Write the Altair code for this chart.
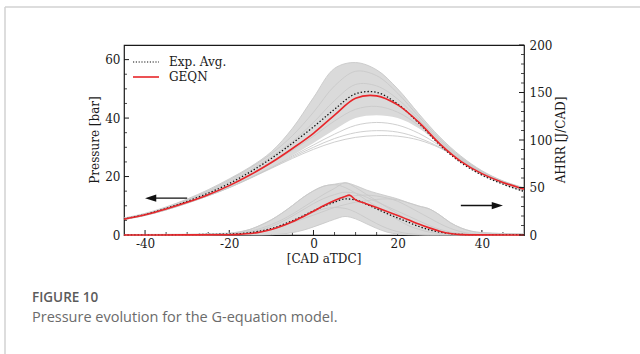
import altair as alt
import pandas as pd

# ---------------- data ----------------
# Pressure [bar] sampled on crank angle grid
p_cad = [-45, -40, -35, -30, -25, -20, -15, -10, -5, 0, 5, 10, 15, 20, 25, 30, 35, 40, 45, 50]
p_sim = [5.4, 6.9, 8.9, 11.2, 13.8, 16.9, 20.6, 24.8, 29.6, 34.8, 41.0, 46.8, 47.6, 44.5, 38.6, 31.2, 25.2, 21.0, 18.0, 15.7]
p_exp = [5.5, 7.0, 9.1, 11.5, 14.3, 17.6, 21.6, 26.2, 31.4, 37.0, 43.0, 48.3, 48.8, 44.8, 38.3, 30.8, 24.8, 20.5, 17.4, 14.9]
p_band_hi = [5.8, 7.4, 9.6, 12.3, 15.5, 19.2, 23.3, 28.5, 36.5, 47.0, 57.0, 59.0, 56.5, 50.0, 41.5, 33.5, 27.0, 22.0, 18.5, 16.2]
p_band_lo = [5.3, 6.7, 8.6, 10.9, 13.5, 16.3, 19.6, 23.2, 27.2, 31.5, 36.0, 40.0, 41.0, 40.0, 36.5, 31.0, 25.0, 20.4, 17.3, 14.6]
p_c1 = [5.3, 6.7, 8.6, 10.9, 13.4, 16.2, 19.4, 22.8, 26.2, 29.3, 31.8, 33.4, 34.0, 33.8, 32.5, 29.8, 25.8, 21.6, 18.3, 15.7]
p_c2 = [5.3, 6.7, 8.6, 10.9, 13.4, 16.2, 19.5, 23.0, 26.6, 30.0, 33.0, 35.0, 35.7, 35.2, 33.2, 30.0, 25.6, 21.4, 18.2, 15.6]
p_c3 = [5.3, 6.7, 8.6, 10.9, 13.5, 16.3, 19.6, 23.1, 27.0, 30.8, 34.5, 37.5, 38.5, 37.6, 34.8, 30.5, 25.4, 21.0, 17.8, 15.3]
p_c4 = [5.4, 6.9, 8.9, 11.2, 13.9, 17.0, 20.6, 24.6, 29.0, 33.8, 39.0, 43.0, 44.0, 42.0, 37.5, 31.5, 25.8, 21.4, 18.1, 15.6]
p_c5 = [5.6, 7.1, 9.2, 11.7, 14.7, 18.2, 22.2, 26.8, 32.0, 38.5, 46.0, 51.5, 51.0, 46.5, 39.5, 32.2, 26.2, 21.6, 18.3, 15.9]
p_c6 = [5.7, 7.2, 9.4, 12.0, 15.1, 18.8, 23.0, 27.8, 34.0, 42.0, 51.0, 56.0, 54.5, 48.5, 40.5, 32.8, 26.6, 21.8, 18.4, 16.0]

# AHRR [J/CAD]
a_cad = [-45, -30, -20, -17.5, -15, -12.5, -10, -7.5, -5, -2.5, 0, 2.5, 5, 7.5, 10, 12.5, 15, 17.5, 20, 22.5,
         25, 27.5, 30, 32.5, 35, 37.5, 40, 45, 50]
a_band_hi = [0.5, 0.8, 2.0, 3.5, 6.0, 10.5, 16.0, 23.0, 31.0, 39.5, 46.5, 51.5, 53.5, 55.0, 52.0, 47.5, 44.0, 41.0, 38.0, 34.0,
             30.5, 27.5, 21.0, 13.0, 7.5, 4.0, 2.5, 1.5, 1.0]
a_band_lo = [0, 0, 0, 0, 0, 0, 0.3, 1.0, 2.5, 5.0, 8.5, 12.5, 16.5, 19.5, 17.0, 12.0, 7.0, 3.0, 1.0, 0.3,
             0, 0, 0, 0, 0, 0, 0, 0, 0]
a_g1 = [0, 0.3, 1.5, 3, 6, 10.5, 16, 23, 31, 39.5, 46.5, 51.5, 53, 50, 44, 37, 30, 23, 16, 10, 6, 3, 1.5, 0.5, 0.2, 0.1, 0, 0, 0]
a_g2 = [0.3, 0.5, 1, 1.5, 2.5, 4, 6, 9, 13, 17, 21, 25, 29, 32, 34.5, 36, 37.5, 38, 37, 34, 30.5, 27.5, 21, 13, 7.5, 4, 2.5, 1.5, 1]
a_g3 = [0, 0.3, 1, 2, 4, 7, 11, 16, 22, 29, 36, 43, 49, 55, 50, 43, 36, 29, 22.5, 16, 11, 7, 4, 2, 1, 0.5, 0.3, 0.2, 0.2]
a_g4 = [0, 0, 0, 0, 0, 0, 0.3, 1, 2.5, 5, 8.5, 12.5, 16.5, 19.5, 17, 12, 7, 3, 1, 0.3, 0, 0, 0, 0, 0, 0, 0, 0, 0]
a_g5 = [0, 0.2, 0.6, 1, 2, 3.5, 6, 9.5, 14, 19, 24.5, 30, 35, 39, 41.5, 42, 41, 39, 35.5, 30, 24, 18, 12, 7, 3.5, 1.5, 0.8, 0.5, 0.5]
a_g6 = [0, 0.2, 0.8, 1.5, 3, 5.5, 9, 14, 20, 26.5, 33, 38.5, 42.5, 45, 44, 40, 35, 30, 25, 20, 15, 10, 6, 3, 1.5, 0.5, 0.3, 0.2, 0.2]
a_g7 = [0, 0.1, 0.5, 1, 2, 3.5, 6, 9.5, 14, 19, 24, 27.5, 29, 28, 24, 18, 12, 7, 3.5, 1.5, 0.5, 0, 0, 0, 0, 0, 0, 0, 0]

a_sim_cad = [-45, -30, -20, -17.5, -15, -12.5, -10, -7.5, -5, -2.5, 0, 2.5, 5, 7.5, 8.5, 10, 12.5, 15, 17.5, 20,
             22.5, 25, 27.5, 30, 32.5, 35, 40, 50]
a_sim = [0.0, 0.1, 0.3, 0.7, 1.5, 3.2, 5.8, 9.5, 14.0, 19.3, 25.0, 31.0, 36.3, 40.6, 42.0, 37.0, 33.0, 29.0, 24.8, 20.5,
         16.0, 11.5, 7.5, 4.0, 1.5, 0.4, 0.1, 0.0]
a_exp_cad = [-45, -30, -20, -15, -10, -5, 0, 2.5, 5, 7.5, 10, 12.5, 15, 17.5, 20, 22.5, 25, 27.5, 30, 32.5, 35, 40, 50]
a_exp = [0.0, 0.4, 1.0, 2.5, 6.8, 15.0, 25.5, 30.5, 34.5, 38.0, 37.0, 32.5, 27.5, 22.5, 18.0, 13.5, 9.0, 5.5, 3.0, 1.4,
         0.6, 0.3, 0.3]

# axis ticks
x_major = [-40, -20, 0, 20, 40]
x_minor = [-35, -30, -25, -15, -10, -5, 5, 10, 15, 25, 30, 35, 45]
p_major = [0, 20, 40, 60]
p_minor = [5, 10, 15, 25, 30, 35, 45, 50, 55]
a_major = [0, 50, 100, 150, 200]
a_minor = [10, 20, 30, 40, 60, 70, 80, 90, 110, 120, 130, 140, 160, 170, 180, 190]

# arrows (tail, tip) and level
arrow_p_cad = [-30, -40]
arrow_p_val = 12.6
arrow_a_cad = [35, 45]
arrow_a_val = 31.0

legend_labels = ["Exp. Avg.", "GEQN"]
caption_head = "FIGURE 10"
caption_text = "Pressure evolution for the G-equation model."

# ---------------- chart ----------------
W, H = 400, 190
SERIF = "DejaVu Serif"
RED = "#e8262a"
GRAY_FILL = "#dadada"
GRAY_LINE = "#c9c9c9"
INK = "#1a1a1a"

xs = alt.Scale(domain=[-45, 50], nice=False, zero=False)
yp = alt.Scale(domain=[0, 65], nice=False)
ya = alt.Scale(domain=[0, 200], nice=False)

minus_expr = "(datum.value < 0 ? '-' : '') + abs(datum.value)"
x_axis = alt.Axis(values=x_major, title=None, grid=False, ticks=False, tickSize=0, domain=False,
                  labelFont=SERIF, labelFontSize=12, labelColor=INK, labelPadding=3,
                  labelExpr=minus_expr)
left_axis = alt.Axis(orient="left", values=p_major, title=None, grid=False, ticks=False, tickSize=0,
                     domain=False, labelFont=SERIF, labelFontSize=12, labelColor=INK, labelPadding=4)
right_axis = alt.Axis(orient="right", values=a_major, title=None, grid=False, ticks=False, tickSize=0,
                      domain=False, labelFont=SERIF, labelFontSize=12, labelColor=INK, labelPadding=5)

X = lambda f: alt.X(f, scale=xs, axis=x_axis)
YP = lambda f: alt.Y(f, scale=yp, axis=left_axis)
YA = lambda f: alt.Y(f, scale=ya, axis=right_axis)

# pressure frames
p_band_df = pd.DataFrame({"cad": p_cad, "lo": p_band_lo, "hi": p_band_hi})
p_gray_rows = []
for name, vals in [("c1", p_c1), ("c2", p_c2), ("c3", p_c3), ("c4", p_c4), ("c5", p_c5), ("c6", p_c6),
                   ("hi", p_band_hi)]:
    for c, v in zip(p_cad, vals):
        p_gray_rows.append({"cad": c, "p": v, "cycle": name})
p_gray_df = pd.DataFrame(p_gray_rows)
p_exp_df = pd.DataFrame({"cad": p_cad, "p": p_exp})
p_sim_df = pd.DataFrame({"cad": p_cad, "p": p_sim})

# AHRR frames
a_band_df = pd.DataFrame({"cad": a_cad, "lo": a_band_lo, "hi": a_band_hi})
a_gray_rows = []
for name, vals in [("g1", a_g1), ("g2", a_g2), ("g3", a_g3), ("g4", a_g4), ("g5", a_g5), ("g6", a_g6),
                   ("g7", a_g7), ("hi", a_band_hi)]:
    for c, v in zip(a_cad, vals):
        a_gray_rows.append({"cad": c, "a": v, "cycle": name})
a_gray_df = pd.DataFrame(a_gray_rows)
a_exp_df = pd.DataFrame({"cad": a_exp_cad, "a": a_exp})
a_sim_df = pd.DataFrame({"cad": a_sim_cad, "a": a_sim})

one = pd.DataFrame({"k": [0]})

# --- pressure layer ---
p_band = alt.Chart(p_band_df).mark_area(color=GRAY_FILL, interpolate="catmull-rom").encode(
    x=X("cad:Q"), y=YP("lo:Q"), y2="hi:Q")
p_gray = alt.Chart(p_gray_df).mark_line(color=GRAY_LINE, strokeWidth=0.9, interpolate="catmull-rom").encode(
    x=X("cad:Q"), y=YP("p:Q"), detail="cycle:N")
p_exp_line = alt.Chart(p_exp_df).mark_line(color="#111", strokeWidth=1.3, strokeDash=[1.4, 2.0],
                                           interpolate="catmull-rom").encode(x=X("cad:Q"), y=YP("p:Q"))
p_sim_line = alt.Chart(p_sim_df).mark_line(color=RED, strokeWidth=1.6, interpolate="catmull-rom").encode(
    x=X("cad:Q"), y=YP("p:Q"))

xt_major = alt.Chart(pd.DataFrame({"v": x_major})).mark_rule(color=INK, strokeWidth=1).encode(
    x=X("v:Q"), y=alt.value(H), y2=alt.value(H - 5))
xt_minor = alt.Chart(pd.DataFrame({"v": x_minor})).mark_rule(color=INK, strokeWidth=0.8).encode(
    x=X("v:Q"), y=alt.value(H), y2=alt.value(H - 3))
pt_major = alt.Chart(pd.DataFrame({"v": p_major})).mark_rule(color=INK, strokeWidth=1).encode(
    y=YP("v:Q"), x=alt.value(0), x2=alt.value(5))
pt_minor = alt.Chart(pd.DataFrame({"v": p_minor})).mark_rule(color=INK, strokeWidth=0.8).encode(
    y=YP("v:Q"), x=alt.value(0), x2=alt.value(3))

arrow_p_df = pd.DataFrame({"tail": [arrow_p_cad[0]], "tip": [arrow_p_cad[1]], "v": [arrow_p_val],
                           "base": [arrow_p_cad[1] + 2.2]})
p_arrow_shaft = alt.Chart(arrow_p_df).mark_rule(color="#111", strokeWidth=1.4).encode(
    x=X("tail:Q"), x2="base:Q", y=YP("v:Q"))
p_arrow_head = alt.Chart(arrow_p_df).mark_point(shape="M0,0 L1.4,-0.45 L1.4,0.45 Z", filled=True,
                                                color="#111", size=256, opacity=1, strokeWidth=0).encode(
    x=X("tip:Q"), y=YP("v:Q"))

# legend
leg_dot = alt.Chart(one).mark_rule(color="#111", strokeWidth=1.1, strokeDash=[1.2, 1.6]).encode(
    x=alt.value(9), x2=alt.value(35), y=alt.value(17))
leg_red = alt.Chart(one).mark_rule(color=RED, strokeWidth=1.6).encode(
    x=alt.value(9), x2=alt.value(35), y=alt.value(32))
leg_t1 = alt.Chart(one).mark_text(align="left", baseline="middle", font=SERIF, fontSize=12, color=INK,
                                  text=legend_labels[0]).encode(x=alt.value(45), y=alt.value(17))
leg_t2 = alt.Chart(one).mark_text(align="left", baseline="middle", font=SERIF, fontSize=12, color=INK,
                                  text=legend_labels[1]).encode(x=alt.value(45), y=alt.value(32))

# axis titles and caption
t_x = alt.Chart(one).mark_text(align="center", baseline="middle", font=SERIF, fontSize=12, color=INK,
                               text="[CAD aTDC]").encode(x=alt.value(200), y=alt.value(214))
t_yl = alt.Chart(one).mark_text(align="center", baseline="middle", font=SERIF, fontSize=12, color=INK,
                                angle=270, text="Pressure [bar]").encode(x=alt.value(-29), y=alt.value(95))
t_yr = alt.Chart(one).mark_text(align="center", baseline="middle", font=SERIF, fontSize=12, color=INK,
                                angle=270, text="AHRR [J/CAD]").encode(x=alt.value(437), y=alt.value(95))
cap1 = alt.Chart(one).mark_text(align="left", baseline="middle", font="Open Sans", fontSize=13.5,
                                fontWeight=600, color="#5b5b5b", text=caption_head).encode(
    x=alt.value(-92), y=alt.value(253))
cap2 = alt.Chart(one).mark_text(align="left", baseline="middle", font="Open Sans", fontSize=14.5,
                                color="#6b6b6b", text=caption_text).encode(x=alt.value(-92), y=alt.value(273))
border_top = alt.Chart(one).mark_rule(color="#d2d2d2", strokeWidth=1.5).encode(
    x=alt.value(-119), x2=alt.value(516), y=alt.value(-38))
border_left = alt.Chart(one).mark_rule(color="#d2d2d2", strokeWidth=1.5).encode(
    x=alt.value(-119), y=alt.value(-38), y2=alt.value(309))

p_layer = alt.layer(p_band, p_gray, p_exp_line, p_sim_line, xt_major, xt_minor, pt_major, pt_minor,
                    p_arrow_shaft, p_arrow_head, leg_dot, leg_red, leg_t1, leg_t2,
                    t_x, t_yl, t_yr, cap1, cap2, border_top, border_left)

# --- AHRR layer ---
a_band = alt.Chart(a_band_df).mark_area(color=GRAY_FILL, interpolate="monotone").encode(
    x=X("cad:Q"), y=YA("lo:Q"), y2="hi:Q")
a_gray = alt.Chart(a_gray_df).mark_line(color=GRAY_LINE, strokeWidth=0.9, interpolate="monotone").encode(
    x=X("cad:Q"), y=YA("a:Q"), detail="cycle:N")
a_exp_line = alt.Chart(a_exp_df).mark_line(color="#111", strokeWidth=1.3, strokeDash=[1.4, 2.0],
                                           interpolate="monotone").encode(x=X("cad:Q"), y=YA("a:Q"))
a_sim_line = alt.Chart(a_sim_df).mark_line(color=RED, strokeWidth=1.6, interpolate="monotone").encode(
    x=X("cad:Q"), y=YA("a:Q"))
at_major = alt.Chart(pd.DataFrame({"v": a_major})).mark_rule(color=INK, strokeWidth=1).encode(
    y=YA("v:Q"), x=alt.value(W), x2=alt.value(W - 5))
at_minor = alt.Chart(pd.DataFrame({"v": a_minor})).mark_rule(color=INK, strokeWidth=0.8).encode(
    y=YA("v:Q"), x=alt.value(W), x2=alt.value(W - 3))
arrow_a_df = pd.DataFrame({"tail": [arrow_a_cad[0]], "tip": [arrow_a_cad[1]], "v": [arrow_a_val],
                           "base": [arrow_a_cad[1] - 2.2]})
a_arrow_shaft = alt.Chart(arrow_a_df).mark_rule(color="#111", strokeWidth=1.4).encode(
    x=X("tail:Q"), x2="base:Q", y=YA("v:Q"))
a_arrow_head = alt.Chart(arrow_a_df).mark_point(shape="M0,0 L-1.4,-0.45 L-1.4,0.45 Z", filled=True,
                                                color="#111", size=256, opacity=1, strokeWidth=0).encode(
    x=X("tip:Q"), y=YA("v:Q"))

a_layer = alt.layer(a_band, a_gray, a_exp_line, a_sim_line, at_major, at_minor, a_arrow_shaft, a_arrow_head)

chart = alt.layer(p_layer, a_layer).resolve_scale(y="independent").properties(
    width=W, height=H,
    padding={"left": 124, "top": 45, "right": 116, "bottom": 119},
    autosize=alt.AutoSizeParams(type="none"),
    background="white",
).configure_view(stroke=INK, strokeWidth=1.2)

chart.save("out.html", embed_options={"renderer": "svg", "actions": False})
